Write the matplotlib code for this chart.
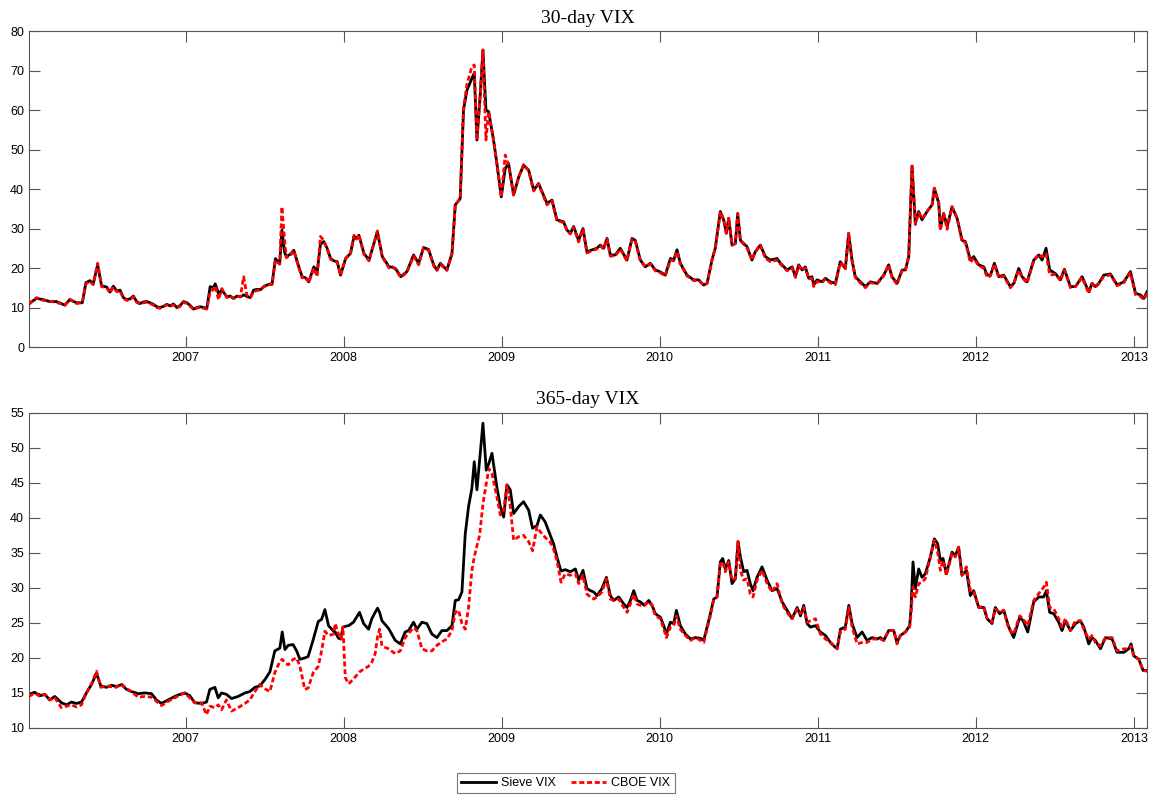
import numpy as np
import matplotlib
matplotlib.use("Agg")
import matplotlib.pyplot as plt
from matplotlib.lines import Line2D

plt.rcParams["font.family"] = ["Liberation Sans", "DejaVu Sans"]

# ---------------- 30-day VIX (decimal years) ----------------
t30 = [
    2006.010, 2006.057, 2006.099, 2006.142, 2006.184, 2006.237, 2006.268, 2006.311, 2006.347, 2006.370,
    2006.395, 2006.416, 2006.444, 2006.469, 2006.501, 2006.522, 2006.543, 2006.565, 2006.586, 2006.607,
    2006.628, 2006.649, 2006.670, 2006.691, 2006.712, 2006.733, 2006.755, 2006.776, 2006.797, 2006.818,
    2006.839, 2006.861, 2006.882, 2006.903, 2006.924, 2006.945, 2006.966, 2006.987,
    2007.009, 2007.030, 2007.051, 2007.072, 2007.093, 2007.114, 2007.135, 2007.156, 2007.177, 2007.188,
    2007.209, 2007.230, 2007.262, 2007.283, 2007.304, 2007.326, 2007.347, 2007.368, 2007.389, 2007.410,
    2007.431, 2007.452, 2007.474, 2007.495, 2007.516, 2007.548, 2007.569, 2007.596, 2007.610, 2007.627,
    2007.638, 2007.664, 2007.685, 2007.717, 2007.738, 2007.759, 2007.780, 2007.812, 2007.833, 2007.854,
    2007.875, 2007.896, 2007.918, 2007.939, 2007.960, 2007.981,
    2008.013, 2008.044, 2008.066, 2008.082, 2008.097, 2008.129, 2008.161, 2008.214, 2008.245, 2008.288,
    2008.309, 2008.330, 2008.362, 2008.401, 2008.443, 2008.475, 2008.506, 2008.538, 2008.570, 2008.591,
    2008.612, 2008.654, 2008.686, 2008.707, 2008.738, 2008.759, 2008.781, 2008.812, 2008.827, 2008.844,
    2008.865, 2008.882, 2008.901, 2008.918, 2008.949, 2008.970, 2008.998,
    2009.023, 2009.044, 2009.076, 2009.108, 2009.139, 2009.171, 2009.203, 2009.234, 2009.287, 2009.319,
    2009.350, 2009.392, 2009.414, 2009.435, 2009.456, 2009.487, 2009.515, 2009.540, 2009.572, 2009.603,
    2009.624, 2009.646, 2009.667, 2009.688, 2009.719, 2009.751, 2009.793, 2009.825, 2009.846, 2009.878,
    2009.909, 2009.941, 2009.973,
    2010.000, 2010.036, 2010.068, 2010.089, 2010.110, 2010.131, 2010.173, 2010.215, 2010.247, 2010.278,
    2010.300, 2010.331, 2010.352, 2010.384, 2010.405, 2010.422, 2010.437, 2010.458, 2010.479, 2010.494,
    2010.511, 2010.553, 2010.584, 2010.605, 2010.637, 2010.669, 2010.700, 2010.743, 2010.764, 2010.806,
    2010.838, 2010.859, 2010.880, 2010.901, 2010.922, 2010.943, 2010.964, 2010.975, 2010.996,
    2011.027, 2011.049, 2011.080, 2011.112, 2011.143, 2011.175, 2011.196, 2011.217, 2011.238, 2011.270,
    2011.302, 2011.333, 2011.376, 2011.418, 2011.449, 2011.470, 2011.502, 2011.534, 2011.555, 2011.576,
    2011.597, 2011.618, 2011.639, 2011.660, 2011.692, 2011.724, 2011.738, 2011.766, 2011.776, 2011.797,
    2011.819, 2011.850, 2011.882, 2011.914, 2011.935, 2011.966, 2011.987,
    2012.019, 2012.051, 2012.072, 2012.093, 2012.118, 2012.146, 2012.177, 2012.219, 2012.241, 2012.272,
    2012.293, 2012.325, 2012.367, 2012.399, 2012.420, 2012.445, 2012.468, 2012.504, 2012.536, 2012.561,
    2012.599, 2012.631, 2012.673, 2012.715, 2012.736, 2012.757, 2012.778, 2012.810, 2012.852, 2012.895,
    2012.937, 2012.979, 2013.011, 2013.042, 2013.063, 2013.084,
]
sieve30 = [
    11.0, 12.3, 12.0, 11.5, 11.5, 10.6, 12.0, 11.2, 11.2, 16.3,
    16.8, 16.0, 20.8, 15.5, 15.2, 13.9, 15.4, 14.2, 14.4, 12.5,
    12.0, 12.2, 12.9, 11.5, 11.0, 11.4, 11.5, 11.2, 10.8, 10.2,
    10.0, 10.3, 10.8, 10.4, 10.9, 10.0, 10.5, 11.5,
    11.2, 10.5, 9.6, 10.0, 10.2, 10.0, 9.8, 15.3, 15.0, 16.0,
    13.5, 14.4, 12.7, 12.9, 12.3, 12.9, 12.7, 13.2, 12.8, 12.5,
    14.4, 14.6, 14.5, 15.3, 15.7, 16.1, 22.4, 21.0, 29.6, 24.0,
    22.9, 23.5, 24.5, 20.3, 17.8, 17.5, 16.5, 20.3, 19.0, 26.0,
    26.7, 25.0, 22.4, 21.8, 21.6, 18.2,
    22.4, 23.7, 28.0, 27.5, 28.3, 23.7, 22.0, 29.2, 22.9, 20.3,
    20.2, 19.8, 17.8, 19.1, 23.3, 21.2, 25.2, 24.7, 20.8, 19.5,
    21.2, 19.5, 23.7, 36.0, 37.6, 60.0, 65.0, 68.0, 69.3, 52.4,
    64.0, 75.2, 60.0, 59.6, 52.4, 46.5, 38.0,
    45.2, 46.5, 38.5, 43.0, 46.0, 44.8, 39.7, 41.4, 36.4, 37.2,
    32.2, 31.7, 29.6, 28.8, 30.5, 27.0, 30.0, 24.1, 24.6, 25.0,
    25.8, 25.0, 27.5, 23.3, 23.3, 25.0, 22.0, 27.5, 27.0, 22.0,
    20.3, 21.2, 19.5,
    19.1, 18.2, 22.4, 22.0, 24.6, 21.2, 18.2, 17.0, 17.0, 15.7,
    16.1, 22.0, 25.0, 34.3, 32.2, 28.8, 32.6, 25.8, 26.2, 33.8,
    27.0, 25.4, 22.0, 24.1, 25.8, 22.9, 22.0, 22.4, 21.2, 19.5,
    20.3, 17.8, 20.8, 19.5, 20.3, 17.4, 17.8, 15.7, 17.0,
    16.5, 17.4, 16.5, 16.1, 21.6, 19.9, 28.8, 22.0, 17.8, 16.5,
    15.3, 16.5, 16.1, 18.2, 20.8, 17.8, 16.1, 19.5, 19.5, 22.9,
    45.7, 31.3, 34.3, 32.2, 34.3, 36.0, 40.2, 36.4, 30.0, 33.8,
    30.5, 35.5, 32.6, 27.0, 26.7, 22.0, 22.9,
    20.8, 20.3, 18.2, 18.2, 21.2, 17.8, 18.2, 15.3, 16.1, 19.9,
    17.8, 16.5, 22.0, 23.3, 22.0, 25.0, 19.5, 18.6, 17.0, 19.7,
    15.3, 15.3, 17.8, 14.0, 16.1, 15.3, 16.1, 18.2, 18.5, 15.7,
    16.5, 19.1, 13.6, 13.2, 12.3, 14.0,
]
cboe30 = [
    10.8, 12.5, 11.8, 11.6, 11.3, 10.6, 12.1, 11.0, 11.3, 16.0,
    16.6, 15.8, 21.2, 15.3, 15.0, 13.7, 15.2, 14.0, 14.2, 12.3,
    11.8, 12.0, 12.7, 11.3, 10.9, 11.2, 11.3, 11.0, 10.6, 10.0,
    9.8, 10.2, 10.7, 10.3, 10.7, 9.9, 10.3, 11.3,
    11.0, 10.3, 9.5, 9.9, 10.0, 9.8, 9.6, 14.0, 14.5, 15.5,
    12.0, 14.8, 12.5, 12.8, 12.3, 12.8, 12.7, 17.8, 13.0, 12.5,
    14.0, 14.3, 14.5, 15.2, 15.7, 15.8, 22.0, 21.0, 35.5, 27.0,
    22.6, 23.2, 24.4, 20.0, 17.5, 17.8, 16.3, 20.0, 17.8, 28.0,
    27.0, 24.8, 22.2, 21.8, 21.4, 18.2,
    22.4, 23.7, 28.3, 27.3, 28.5, 23.5, 21.8, 29.4, 22.8, 20.0,
    20.3, 19.6, 17.6, 18.9, 23.0, 20.8, 25.0, 24.5, 20.6, 19.4,
    21.0, 19.4, 23.5, 36.0, 37.5, 60.5, 66.5, 71.0, 71.4, 52.4,
    64.0, 75.2, 52.4, 59.6, 52.4, 46.5, 38.0,
    48.6, 46.0, 38.5, 43.0, 46.2, 44.6, 39.5, 41.2, 36.0, 37.0,
    32.0, 31.5, 29.4, 28.6, 30.3, 26.6, 29.8, 23.8, 24.4, 24.8,
    25.6, 24.8, 27.3, 23.0, 23.1, 24.8, 21.8, 27.3, 26.8, 21.8,
    20.3, 21.0, 19.3,
    18.9, 18.0, 22.0, 21.8, 24.2, 21.0, 18.0, 16.8, 16.8, 15.7,
    16.1, 22.0, 25.0, 34.3, 32.2, 28.8, 32.6, 25.8, 26.2, 33.8,
    27.0, 25.0, 22.0, 24.1, 25.8, 22.5, 21.6, 22.0, 21.0, 19.3,
    20.1, 17.6, 20.6, 19.3, 20.1, 17.2, 17.4, 15.3, 16.6,
    16.3, 17.2, 16.2, 15.8, 21.4, 19.8, 28.8, 22.0, 17.6, 16.2,
    15.0, 16.3, 16.0, 18.0, 20.8, 17.6, 15.9, 19.3, 19.3, 22.9,
    46.3, 31.0, 34.0, 32.5, 34.3, 36.0, 40.2, 36.4, 29.5, 33.8,
    29.8, 35.5, 32.6, 26.6, 26.5, 21.4, 22.5,
    20.5, 20.0, 17.6, 18.0, 21.0, 17.5, 18.0, 15.0, 16.0, 19.5,
    17.6, 16.2, 21.8, 23.5, 22.8, 23.7, 18.2, 18.4, 16.8, 19.5,
    15.0, 15.3, 17.6, 13.6, 16.0, 15.0, 16.0, 17.8, 18.3, 15.5,
    16.3, 18.8, 13.3, 12.8, 12.0, 13.6,
]

# ---------------- 365-day VIX (decimal years) ----------------
t365 = [
    2006.010, 2006.046, 2006.078, 2006.110, 2006.141, 2006.173, 2006.215, 2006.247, 2006.278, 2006.310,
    2006.342, 2006.373, 2006.405, 2006.437, 2006.464, 2006.500, 2006.532, 2006.563, 2006.595, 2006.627,
    2006.658, 2006.700, 2006.743, 2006.785, 2006.816, 2006.848, 2006.890, 2006.932, 2006.964, 2006.996,
    2007.027, 2007.059, 2007.101, 2007.133, 2007.154, 2007.186, 2007.207, 2007.228, 2007.259, 2007.291,
    2007.333, 2007.376, 2007.407, 2007.439, 2007.470, 2007.502, 2007.534, 2007.565, 2007.597, 2007.612,
    2007.629, 2007.650, 2007.681, 2007.703, 2007.724, 2007.755, 2007.776, 2007.808, 2007.840, 2007.861,
    2007.882, 2007.905, 2007.937, 2007.947, 2007.968, 2007.983, 2007.996,
    2008.011, 2008.032, 2008.063, 2008.101, 2008.127, 2008.158, 2008.179, 2008.200, 2008.215, 2008.228,
    2008.243, 2008.285, 2008.327, 2008.359, 2008.390, 2008.411, 2008.443, 2008.464, 2008.496, 2008.527,
    2008.559, 2008.591, 2008.622, 2008.654, 2008.686, 2008.707, 2008.728, 2008.749, 2008.770, 2008.791,
    2008.812, 2008.827, 2008.844, 2008.861, 2008.882, 2008.903, 2008.920, 2008.939, 2008.970, 2008.992,
    2009.013, 2009.034, 2009.055, 2009.076, 2009.108, 2009.139, 2009.171, 2009.196, 2009.224, 2009.245,
    2009.276, 2009.308, 2009.329, 2009.350, 2009.376, 2009.403,
    2009.435, 2009.467, 2009.488, 2009.515, 2009.540, 2009.562, 2009.583, 2009.604, 2009.635, 2009.663,
    2009.688, 2009.709, 2009.741, 2009.773, 2009.794, 2009.815, 2009.836, 2009.857, 2009.878, 2009.903,
    2009.931, 2009.952, 2009.973,
    2010.005, 2010.026, 2010.043, 2010.068, 2010.089, 2010.106, 2010.131, 2010.163, 2010.195, 2010.226,
    2010.258, 2010.279, 2010.300, 2010.321, 2010.342, 2010.363, 2010.384, 2010.399, 2010.416, 2010.437,
    2010.458, 2010.479, 2010.496, 2010.511, 2010.532, 2010.553, 2010.574, 2010.591, 2010.616, 2010.648,
    2010.680, 2010.711, 2010.743, 2010.775, 2010.806, 2010.838, 2010.870, 2010.891, 2010.912, 2010.933,
    2010.954, 2010.986,
    2011.017, 2011.049, 2011.081, 2011.112, 2011.123, 2011.144, 2011.175, 2011.197, 2011.218, 2011.249,
    2011.281,
    2011.312, 2011.344, 2011.375, 2011.397, 2011.418, 2011.449, 2011.481, 2011.502, 2011.523, 2011.555,
    2011.582, 2011.591, 2011.603, 2011.618, 2011.639, 2011.660, 2011.681, 2011.713, 2011.738, 2011.759,
    2011.776, 2011.793, 2011.814, 2011.850, 2011.871, 2011.892, 2011.913, 2011.941, 2011.966, 2011.987,
    2012.019, 2012.051, 2012.072, 2012.103, 2012.124, 2012.152, 2012.177, 2012.209, 2012.240, 2012.278,
    2012.300, 2012.329, 2012.367, 2012.399, 2012.430, 2012.447, 2012.468, 2012.494, 2012.525, 2012.546,
    2012.567, 2012.599, 2012.631, 2012.662, 2012.684, 2012.715, 2012.736, 2012.757, 2012.789, 2012.821,
    2012.863, 2012.894, 2012.937, 2012.968, 2012.983, 2013.000, 2013.032, 2013.059, 2013.084,
]
sieve365 = [
    14.8, 15.1, 14.6, 14.8, 14.0, 14.5, 13.6, 13.3, 13.7, 13.5,
    13.7, 15.0, 16.2, 17.8, 16.0, 15.8, 16.1, 15.9, 16.2, 15.5,
    15.2, 14.9, 15.0, 14.9, 14.0, 13.5, 14.0, 14.5, 14.8, 15.0,
    14.6, 13.6, 13.5, 13.7, 15.5, 15.8, 14.3, 15.0, 14.8, 14.2,
    14.5, 15.0, 15.2, 15.8, 16.0, 16.9, 18.0, 21.0, 21.4, 23.7,
    21.2, 21.8, 21.9, 21.0, 19.8, 20.0, 20.2, 22.6, 25.2, 25.5,
    26.9, 24.6, 23.8, 23.7, 22.8, 22.7, 24.4,
    24.5, 24.6, 25.1, 26.5, 24.9, 24.1, 25.6, 26.5, 27.1, 26.5,
    25.3, 24.2, 22.5, 22.0, 23.7, 23.9, 25.1, 24.1, 25.1, 24.9,
    23.4, 22.9, 23.9, 23.9, 24.6, 28.2, 28.3, 29.4, 37.7, 41.6,
    44.2, 48.0, 44.0, 48.3, 53.5, 46.8, 47.8, 49.2, 44.4, 41.6,
    40.1, 44.7, 44.0, 40.6, 41.6, 42.3, 41.1, 38.5, 38.9, 40.4,
    39.4, 37.5, 36.3, 34.4, 32.4, 32.6,
    32.3, 32.7, 31.1, 32.5, 29.9, 29.6, 29.4, 28.9, 29.9, 31.5,
    28.9, 28.2, 28.7, 27.7, 27.2, 28.2, 29.6, 28.2, 28.0, 27.5,
    28.2, 27.5, 26.3,
    25.8, 24.6, 23.4, 25.1, 24.9, 26.8, 24.6, 23.4, 22.7, 22.9,
    22.8, 22.5, 24.4, 26.3, 28.4, 28.7, 33.7, 34.2, 32.7, 33.9,
    30.6, 31.3, 36.6, 34.4, 32.3, 32.5, 30.6, 29.6, 31.5, 33.0,
    31.1, 29.6, 29.9, 28.0, 26.8, 25.6, 27.2, 26.0, 27.5, 24.9,
    24.4, 24.6,
    23.7, 23.2, 22.2, 21.5, 21.3, 24.1, 24.4, 27.5, 24.9, 22.9,
    23.7,
    22.5, 22.9, 22.7, 22.9, 22.5, 23.9, 23.9, 22.2, 23.2, 23.7,
    24.6, 27.2, 33.7, 29.9, 32.7, 31.5, 32.0, 34.4, 37.0, 36.3,
    33.9, 34.2, 32.0, 35.1, 34.6, 35.8, 31.8, 32.5, 28.9, 29.6,
    27.2, 27.2, 25.6, 24.9, 27.2, 26.3, 26.8, 24.4, 22.9, 25.8,
    25.3, 23.7, 28.0, 28.7, 28.7, 29.6, 26.5, 26.3, 25.1, 23.9,
    25.3, 23.9, 24.9, 25.3, 24.4, 22.0, 22.9, 22.5, 21.3, 22.9,
    22.7, 20.8, 20.8, 21.3, 22.0, 20.3, 19.8, 18.2, 18.2,
]
cboe365 = [
    14.5, 15.0, 14.5, 14.8, 14.0, 14.3, 12.9, 13.1, 13.3, 13.0,
    13.3, 15.0, 16.3, 18.1, 15.8, 16.0, 15.9, 15.8, 16.3, 15.6,
    15.2, 14.4, 14.5, 14.4, 13.8, 13.2, 13.8, 14.3, 14.7, 15.0,
    14.3, 13.6, 13.6, 11.9, 13.1, 12.9, 13.3, 12.6, 14.0, 12.4,
    12.9, 13.5, 14.0, 15.2, 16.2, 15.6, 15.2, 17.9, 19.5, 19.8,
    19.3, 19.0, 19.8, 20.0, 18.8, 15.5, 15.7, 17.9, 18.8, 21.0,
    23.8, 23.2, 23.4, 24.9, 23.4, 22.7, 24.4,
    17.2, 16.3, 17.0, 18.0, 18.4, 18.8, 19.4, 20.6, 23.0, 24.1,
    21.7, 21.3, 20.6, 21.0, 22.9, 23.5, 24.3, 23.9, 21.3, 21.0,
    21.0, 21.8, 22.3, 22.7, 23.9, 26.5, 26.8, 24.9, 24.1, 27.2,
    32.5, 34.4, 36.0, 37.5, 42.0, 44.9, 47.0, 46.3, 43.0, 40.4,
    41.1, 44.7, 41.6, 36.8, 37.3, 37.5, 36.6, 35.3, 38.7, 38.0,
    37.2, 36.5, 35.5, 33.9, 30.8, 32.0,
    31.8, 32.0, 30.6, 31.8, 29.1, 28.7, 28.4, 28.7, 29.4, 31.3,
    28.4, 28.2, 28.4, 27.2, 26.5, 27.7, 29.1, 27.7, 27.5, 27.5,
    28.0, 27.5, 26.0,
    25.6, 24.1, 22.9, 24.4, 24.6, 26.0, 24.1, 23.2, 22.5, 22.9,
    22.5, 22.2, 24.1, 26.0, 28.2, 28.7, 33.4, 33.7, 32.3, 33.7,
    31.1, 31.3, 36.6, 32.5, 31.1, 31.3, 29.1, 28.7, 31.1, 32.5,
    30.6, 29.4, 30.6, 27.7, 26.5, 25.6, 27.0, 26.3, 27.2, 25.1,
    25.3, 25.6,
    23.4, 22.7, 22.2, 21.5, 21.3, 23.8, 24.1, 27.2, 24.4, 22.0,
    22.2,
    22.2, 22.7, 22.7, 22.7, 22.5, 23.9, 23.9, 22.0, 23.2, 23.7,
    24.4, 26.3, 30.1, 28.7, 30.6, 30.8, 31.3, 34.4, 36.8, 35.1,
    32.5, 33.9, 31.8, 34.9, 34.4, 35.8, 31.8, 33.0, 29.6, 29.6,
    27.2, 27.4, 25.6, 25.1, 27.0, 26.5, 26.8, 24.1, 23.4, 26.0,
    25.6, 24.6, 28.2, 29.2, 30.1, 30.8, 27.2, 27.0, 25.6, 24.4,
    25.6, 23.9, 25.3, 25.3, 24.1, 22.7, 23.2, 22.2, 21.7, 22.9,
    22.9, 21.0, 21.3, 21.3, 21.7, 20.3, 19.8, 18.2, 18.1,
]

year_ticks = [2007, 2008, 2009, 2010, 2011, 2012, 2013]
yticks_30 = [0, 10, 20, 30, 40, 50, 60, 70, 80]
yticks_365 = [10, 15, 20, 25, 30, 35, 40, 45, 50, 55]
titles = ["30-day VIX", "365-day VIX"]
series_labels = ["Sieve VIX", "CBOE VIX"]

assert len(t30) == len(sieve30) == len(cboe30)
assert len(t365) == len(sieve365) == len(cboe365)

FRAME = "#555555"
LW = 2.0
DASH = (0, (1.8, 1.0))

fig = plt.figure(figsize=(11.57, 7.97), dpi=100)
ax_top = fig.add_axes([0.0251, 0.5646, 0.9663, 0.3965])
ax_bot = fig.add_axes([0.0251, 0.0866, 0.9663, 0.3956])


def draw_panel(ax, t, sieve, cboe, yticks, title):
    ax.plot(t, sieve, color="black", lw=LW, solid_joinstyle="round", zorder=2)
    ax.plot(t, cboe, color="red", lw=LW, linestyle=DASH, zorder=3)
    ax.set_xlim(t[0], t[-1])
    ax.set_ylim(yticks[0], yticks[-1])
    ax.set_xticks(year_ticks)
    ax.set_xticklabels([str(y) for y in year_ticks])
    ax.set_yticks(yticks)
    ax.tick_params(direction="in", length=8, width=0.8, color=FRAME,
                   top=True, right=True, labelsize=9, pad=3.5,
                   labelcolor="black")
    for sp in ax.spines.values():
        sp.set_color(FRAME)
        sp.set_linewidth(0.8)
    ax.set_title(title, fontfamily="Liberation Serif", fontsize=14, pad=6)


draw_panel(ax_top, t30, sieve30, cboe30, yticks_30, titles[0])
draw_panel(ax_bot, t365, sieve365, cboe365, yticks_365, titles[1])

handles = [
    Line2D([], [], color="black", lw=LW),
    Line2D([], [], color="red", lw=LW, linestyle=DASH),
]
leg = fig.legend(handles, series_labels, loc="center",
                 bbox_to_anchor=(0.489, 0.0176), ncol=2, fontsize=9,
                 frameon=True, fancybox=False, edgecolor=FRAME,
                 handlelength=2.8, handletextpad=0.4, columnspacing=1.2,
                 borderpad=0.35)
leg.get_frame().set_linewidth(0.8)

fig.savefig("out.png", dpi=100, facecolor="white")
